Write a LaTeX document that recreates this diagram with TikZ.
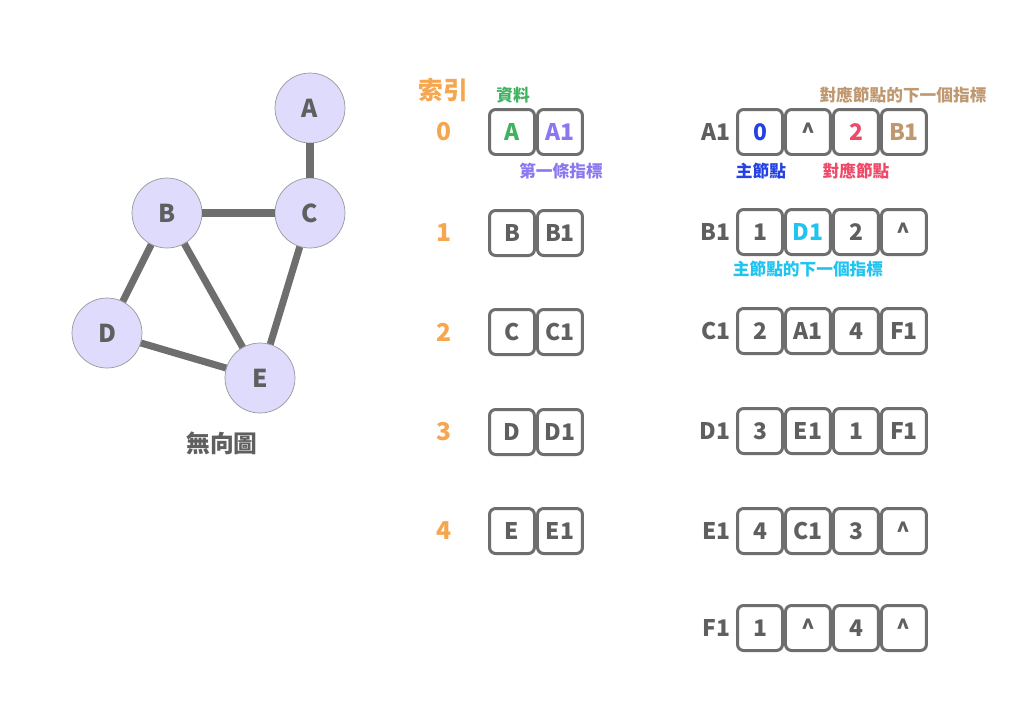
\documentclass[tikz,border=0pt]{standalone}
\usepackage{fontspec}
\setmainfont{Noto Sans CJK TC}
\usetikzlibrary{positioning}
\definecolor{linegray}{RGB}{110,110,110}
\definecolor{textgray}{RGB}{95,95,95}
\definecolor{vertexfill}{RGB}{222,219,252}
\definecolor{idxorange}{RGB}{246,166,78}
\definecolor{datagreen}{RGB}{64,178,96}
\definecolor{ptrpurple}{RGB}{138,120,240}
\definecolor{mainblue}{RGB}{35,65,228}
\definecolor{adjred}{RGB}{240,72,104}
\definecolor{nextbrown}{RGB}{192,152,112}
\definecolor{nextcyan}{RGB}{32,196,240}
\newcommand{\up}{\textasciicircum}

\begin{document}
\begin{tikzpicture}[
 x=0.02cm,y=-0.02cm,
 vtx/.style={circle,draw=gray!80,fill=vertexfill,minimum size=1.4cm,inner sep=0pt,text=textgray,font=\bfseries\fontsize{14}{14}\selectfont},
 link/.style={draw=linegray,line width=4pt},
 cell/.style={draw=linegray,line width=1.7pt,rounded corners=3.5pt,minimum width=0.9cm,minimum height=0.9cm,inner sep=0pt,text=textgray,font=\bfseries\fontsize{13}{13}\selectfont},
 idx/.style={text=idxorange,font=\bfseries\fontsize{14}{14}\selectfont},
 lbl/.style={inner sep=0pt,text=textgray,font=\bfseries\fontsize{13}{13}\selectfont},
 note/.style={inner sep=1pt,font=\bfseries\fontsize{9.5}{9.5}\selectfont}
]
\useasboundingbox[fill=white] (0,0) rectangle (1024,725);

% undirected graph
\node[vtx] (A) at (310,108) {A};
\node[vtx] (B) at (167,213) {B};
\node[vtx] (C) at (310,213) {C};
\node[vtx] (D) at (107,333) {D};
\node[vtx] (E) at (260,378) {E};
\draw[link] (A) -- (C);
\draw[link] (B) -- (C);
\draw[link] (B) -- (D);
\draw[link] (B) -- (E);
\draw[link] (C) -- (E);
\draw[link] (D) -- (E);
\node[text=textgray,font=\bfseries\fontsize{13.5}{13.5}\selectfont] (title) at (222,443) {無向圖};

% vertex array
\node[idx] (idxhead) at (443,90) {索引};
\node[idx] (i0) at (444,132) {0};
\node[idx] (i1) at (444,233) {1};
\node[idx] (i2) at (444,332) {2};
\node[idx] (i3) at (444,432) {3};
\node[idx] (i4) at (444,531) {4};
\node[cell,text=datagreen] (d0) at (512,132) {A};
\node[cell,text=ptrpurple,right=0pt of d0] (p0) {A1};
\node[cell] (d1) at (512,233) {B};
\node[cell,right=0pt of d1] (p1) {B1};
\node[cell] (d2) at (512,332) {C};
\node[cell,right=0pt of d2] (p2) {C1};
\node[cell] (d3) at (512,432) {D};
\node[cell,right=0pt of d3] (p3) {D1};
\node[cell] (d4) at (512,531) {E};
\node[cell,right=0pt of d4] (p4) {E1};
\node[note,text=datagreen] (datanote) at (513,95) {資料};
\node[note,text=ptrpurple] (ptrnote) at (561,171) {第一條指標};

% edge list
\node[cell,text=mainblue] (A1m) at (760,132) {0};
\node[cell,right=0pt of A1m] (A1mn) {\up};
\node[cell,text=adjred,right=0pt of A1mn] (A1a) {2};
\node[cell,text=nextbrown,right=0pt of A1a] (A1an) {B1};
\node[lbl,left=3pt of A1m] (A1) {A1};
\node[cell] (B1m) at (760,232) {1};
\node[cell,text=nextcyan,right=0pt of B1m] (B1mn) {D1};
\node[cell,right=0pt of B1mn] (B1a) {2};
\node[cell,right=0pt of B1a] (B1an) {\up};
\node[lbl,left=3pt of B1m] (B1) {B1};
\node[cell] (C1m) at (760,331) {2};
\node[cell,right=0pt of C1m] (C1mn) {A1};
\node[cell,right=0pt of C1mn] (C1a) {4};
\node[cell,right=0pt of C1a] (C1an) {F1};
\node[lbl,left=3pt of C1m] (C1) {C1};
\node[cell] (D1m) at (760,431) {3};
\node[cell,right=0pt of D1m] (D1mn) {E1};
\node[cell,right=0pt of D1mn] (D1a) {1};
\node[cell,right=0pt of D1a] (D1an) {F1};
\node[lbl,left=3pt of D1m] (D1) {D1};
\node[cell] (E1m) at (760,531) {4};
\node[cell,right=0pt of E1m] (E1mn) {C1};
\node[cell,right=0pt of E1mn] (E1a) {3};
\node[cell,right=0pt of E1a] (E1an) {\up};
\node[lbl,left=3pt of E1m] (E1) {E1};
\node[cell] (F1m) at (760,628) {1};
\node[cell,right=0pt of F1m] (F1mn) {\up};
\node[cell,right=0pt of F1mn] (F1a) {4};
\node[cell,right=0pt of F1a] (F1an) {\up};
\node[lbl,left=3pt of F1m] (F1) {F1};
\node[note,text=nextbrown] (adjnextnote) at (903,95) {對應節點的下一個指標};
\node[note,text=mainblue] (mainnote) at (761,171) {主節點};
\node[note,text=adjred] (adjnote) at (856,171) {對應節點};
\node[note,text=nextcyan] (mainnextnote) at (808,269) {主節點的下一個指標};
\end{tikzpicture}
\end{document}
